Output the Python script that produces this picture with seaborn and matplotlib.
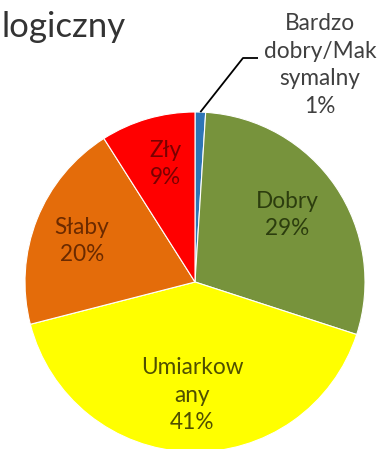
import numpy as np
import matplotlib
matplotlib.use("Agg")
import matplotlib.pyplot as plt
import seaborn as sns

# Ecological status shares (clockwise from the top)
categories = ["Bardzo dobry/Maksymalny", "Dobry", "Umiarkowany", "Słaby", "Zły"]
shares = [1, 29, 41, 20, 9]
label_texts = ["Bardzo\ndobry/Mak\nsymalny\n1%", "Dobry\n29%", "Umiarkow\nany\n41%",
               "Słaby\n20%", "Zły\n9%"]
title_text = "logiczny"

slice_colors = ["#2E75B6", "#77933C", "#FFFF00", "#E46C0A", "#FF0000"]
text_colors = ["#404040", "#2C3D0E", "#4F4F00", "#6B2A00", "#7A0000"]

sns.set_theme(style="white")
plt.rcParams["font.family"] = ["Lato", "DejaVu Sans"]

W, H = 390, 449
fig = plt.figure(figsize=(W / 100, H / 100), dpi=100)
ax = fig.add_axes([0, 0, 1, 1])

cx, cy, r = 195, H - 282, 170
wedges, _ = ax.pie(shares, colors=slice_colors, startangle=90, counterclock=False,
                   center=(cx, cy), radius=r, frame=True,
                   wedgeprops=dict(edgecolor="white", linewidth=0.8))
ax.set_xlim(0, W)
ax.set_ylim(0, H)
ax.set_aspect("equal")
ax.axis("off")

# label block centres
label_pos = [(320, H - 65), (287, H - 215), (192, H - 395), (82, H - 241), (165, H - 164)]
for txt, (x, y), col in zip(label_texts, label_pos, text_colors):
    ax.text(x, y, txt, ha="center", va="center", fontsize=16.3, color=col,
            linespacing=1.38)

# leader line for the smallest slice
w0 = wedges[0]
mid = np.deg2rad((w0.theta1 + w0.theta2) / 2)
sx, sy = cx + r * np.cos(mid), cy + r * np.sin(mid)
ax.plot([sx, 243, 258], [sy, H - 58, H - 58], color="black", lw=1.3,
        solid_capstyle="butt")

ax.text(1, H - 37, title_text, ha="left", va="baseline", fontsize=25, color="#333333")

fig.savefig("out.png", dpi=100)
